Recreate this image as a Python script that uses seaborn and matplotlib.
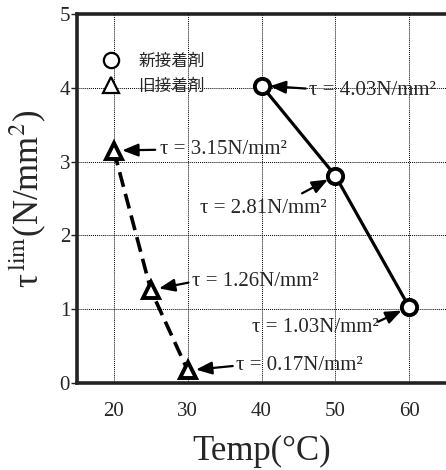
import matplotlib
matplotlib.use("Agg")
import matplotlib.pyplot as plt
import seaborn as sns
import pandas as pd

# Shear strength limit vs. temperature for the two adhesives
new_temp = [40, 50, 60]
new_tau = [4.03, 2.81, 1.03]
old_temp = [20, 25, 30]
old_tau = [3.15, 1.26, 0.17]
series_names = ["新接着剤", "旧接着剤"]
x_ticks = [20, 30, 40, 50, 60]
y_ticks = [0, 1, 2, 3, 4, 5]

sns.set_theme(style="white")
plt.rcParams["font.family"] = ["Liberation Serif", "DejaVu Serif"]
plt.rcParams["mathtext.fontset"] = "stix"

df_new = pd.DataFrame({"temp": new_temp, "tau": new_tau})
df_old = pd.DataFrame({"temp": old_temp, "tau": old_tau})

fig = plt.figure(figsize=(4.46, 4.70), dpi=100)
ax = fig.add_axes([77 / 446, 87 / 470, 1 - 77 / 446, 369 / 470])

sns.lineplot(data=df_new, x="temp", y="tau", ax=ax, color="black", lw=2.3,
             marker="o", markersize=11, markerfacecolor="white",
             markeredgecolor="black", markeredgewidth=2.8,
             label=series_names[0], zorder=5)
sns.lineplot(data=df_old, x="temp", y="tau", ax=ax, color="black", lw=2.6,
             marker="^", markersize=12, markerfacecolor="white",
             markeredgecolor="black", markeredgewidth=2.8,
             label=series_names[1], zorder=5)
ax.lines[1].set_dashes([4.2, 2.0])

ax.set_xlim(15, 65)
ax.set_ylim(0, 5)
ax.set_xticks(x_ticks)
ax.set_yticks(y_ticks)
ax.grid(True, color="black", linestyle=(0, (1, 1)), linewidth=0.7)
ax.set_axisbelow(True)

for side in ["left", "bottom", "top"]:
    ax.spines[side].set_color("#222222")
    ax.spines[side].set_linewidth(2.6)
ax.spines["right"].set_visible(False)
ax.tick_params(axis="y", which="major", left=True, length=4, width=1,
               color="#222222", labelsize=15, pad=1)
ax.tick_params(axis="x", which="major", bottom=False, length=0,
               labelsize=15, pad=14)

ax.set_xlabel("Temp(°C)", fontsize=25, labelpad=10)
ax.set_ylabel(r"τ$^{\,\mathrm{lim}}$(N/mm$^2$)", fontsize=25, labelpad=8)

# Value callouts with arrows pointing at each point
arrow = dict(arrowstyle="-|>,head_length=0.8,head_width=0.32",
             color="black", lw=1.6, shrinkA=0, shrinkB=6)
fs = 15
# (point x, point y, text x, text y, alignment, arrow tail x, arrow tail y)
callouts = [
    (new_temp[0], new_tau[0], 46.5, 3.97, "left", 46.0, 3.99),
    (old_temp[0], old_tau[0], 26.2, 3.16, "left", 25.6, 3.16),
    (new_temp[1], new_tau[1], 40.2, 2.36, "center", 45.5, 2.57),
    (old_temp[1], old_tau[1], 30.6, 1.37, "left", 30.1, 1.36),
    (new_temp[2], new_tau[2], 47.3, 0.75, "center", 55.8, 0.83),
    (old_temp[2], old_tau[2], 36.6, 0.24, "left", 36.1, 0.23),
]
for x, y, tx, ty, ha, ax_, ay_ in callouts:
    label = "τ = %.2fN/mm²" % y
    ax.text(tx, ty, label, fontsize=fs, ha=ha, va="center", zorder=6)
    ax.annotate("", xy=(x, y), xytext=(ax_, ay_), arrowprops=arrow, zorder=6)

leg = ax.legend(loc="upper left", bbox_to_anchor=(0.03, 0.935), frameon=False,
                handlelength=1.0, handletextpad=1.1, labelspacing=0.5,
                prop={"family": ["Noto Sans CJK JP"], "size": 12})
for h in leg.legend_handles:
    h.set_linestyle("none")
    h.set_markersize(11)
    h.set_markeredgewidth(1.6)

fig.savefig("out.png", dpi=100)
